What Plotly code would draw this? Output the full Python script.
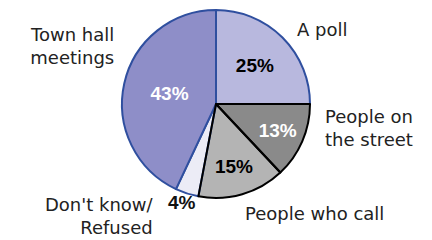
import plotly.graph_objects as go

labels = ["A poll", "People on the street", "People who call", "Don't know/Refused", "Town hall meetings"]
values = [25, 13, 15, 4, 43]
fill_colors = ["#b8b8de", "#8a8a8a", "#b4b4b4", "#ececf6", "#8e8ec8"]
text_colors = ["#000000", "#ffffff", "#000000", "#000000", "#ffffff"]
line_colors = ["#2f4f9f", "#000000", "#000000", "#2f4f9f", "#2f4f9f"]
text_pos = ["inside", "inside", "inside", "none", "inside"]

# outside label text and positions (paper coords)
label_texts = ["A poll", "People on<br>the street", "People who call", "Don't know/<br>Refused", "Town hall<br>meetings"]
label_x = [295 / 432, 323 / 432, 243 / 432, 156 / 432, 116 / 432]
label_y = [1 - 29 / 240, 1 - 128 / 240, 1 - 213 / 240, 1 - 216 / 240, 1 - 46 / 240]
label_xanchor = ["left", "left", "left", "right", "right"]
label_align = ["left", "left", "left", "right", "right"]

dom = dict(x=[122 / 432, 310 / 432], y=[42 / 240, 230 / 240])

fig = go.Figure()
fig.add_trace(go.Pie(
    labels=labels, values=values, sort=False, direction="clockwise", rotation=0,
    domain=dom,
    marker=dict(colors=fill_colors,
                line=dict(color=[c if c != "#000000" else "rgba(0,0,0,0)" for c in line_colors], width=2)),
    textinfo="percent", textposition=text_pos,
    insidetextorientation="horizontal",
    textfont=dict(family="Liberation Sans", size=19, color=text_colors),
    insidetextfont=dict(family="Liberation Sans", size=19, color=text_colors),
    texttemplate="<b>%{percent:.0%}</b>",
    showlegend=False, hoverinfo="none",
))
fig.add_trace(go.Pie(
    labels=labels, values=values, sort=False, direction="clockwise", rotation=0,
    domain=dom,
    marker=dict(colors=["rgba(0,0,0,0)"] * len(values),
                line=dict(color=[c if c == "#000000" else "rgba(0,0,0,0)" for c in line_colors], width=2)),
    textinfo="none", showlegend=False, hoverinfo="none",
))

for t, x, y, xa, al in zip(label_texts, label_x, label_y, label_xanchor, label_align):
    fig.add_annotation(text=t, x=x, y=y, xref="paper", yref="paper", xanchor=xa, yanchor="middle",
                       align=al, showarrow=False,
                       font=dict(family="DejaVu Sans", size=18, color="#222222"))

# 4% label outside the small slice
fig.add_annotation(text="<b>%d%%</b>" % values[3], x=182 / 432, y=1 - 215 / 240, xref="paper", yref="paper",
                   showarrow=False, font=dict(family="Liberation Sans", size=19, color="#111111"))

fig.update_layout(width=432, height=240, margin=dict(l=0, r=0, t=0, b=0),
                  paper_bgcolor="white", plot_bgcolor="white")
fig.write_html("out.html", config={"displayModeBar": False},
               post_script="document.body.style.margin='0';document.body.style.padding='0';")
